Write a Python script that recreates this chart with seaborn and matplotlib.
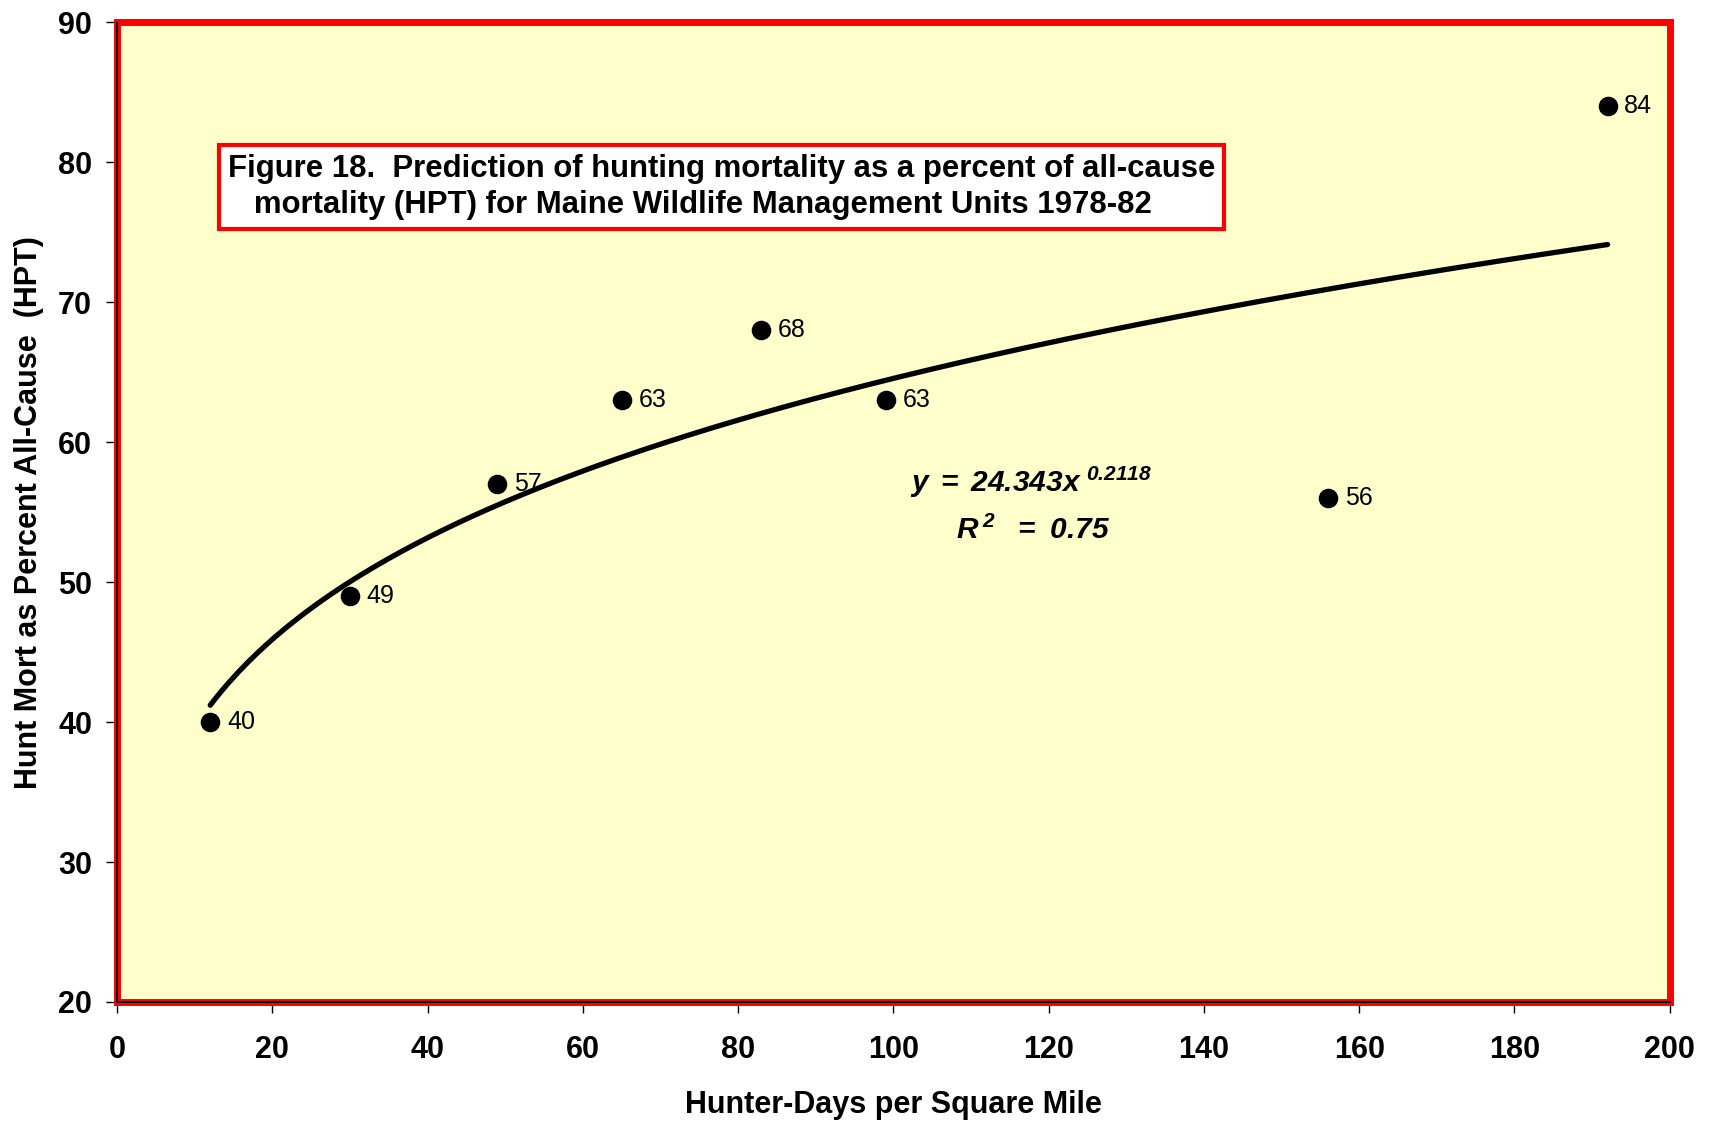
import numpy as np
import pandas as pd
import matplotlib
matplotlib.use("Agg")
import matplotlib.pyplot as plt
import seaborn as sns

# ---- data ----
hunter_days = [12, 30, 49, 65, 83, 99, 156, 192]
hpt = [40, 49, 57, 63, 68, 63, 56, 84]
fit_a = 24.343
fit_b = 0.2118
r_squared = 0.75
x_ticks = [0, 20, 40, 60, 80, 100, 120, 140, 160, 180, 200]
y_ticks = [20, 30, 40, 50, 60, 70, 80, 90]

sns.set_theme(style="white")
plt.rcParams['font.family'] = ['Liberation Sans', 'DejaVu Sans']
plt.rcParams['text.color'] = 'black'
plt.rcParams['axes.labelcolor'] = 'black'
plt.rcParams['xtick.color'] = 'black'
plt.rcParams['ytick.color'] = 'black'
plt.rcParams['mathtext.fontset'] = 'custom'
plt.rcParams['mathtext.rm'] = 'Liberation Sans:italic:bold'
plt.rcParams['mathtext.it'] = 'Liberation Sans:italic:bold'
plt.rcParams['mathtext.bf'] = 'Liberation Sans:italic:bold'

fig = plt.figure(figsize=(17.09, 11.22), dpi=100)
fig.patch.set_facecolor('white')
ax = fig.add_axes([0.0685, 0.107, 0.9085, 0.873])
ax.set_facecolor('#FFFFCC')

df = pd.DataFrame({'x': hunter_days, 'y': hpt})
xs = np.linspace(min(hunter_days), max(hunter_days), 300)
fit_df = pd.DataFrame({'x': xs, 'y': fit_a * xs ** fit_b})

sns.lineplot(data=fit_df, x='x', y='y', ax=ax, color='black', linewidth=3.8, zorder=3)
sns.scatterplot(data=df, x='x', y='y', ax=ax, color='black', s=170, edgecolor='black', zorder=4)

for xv, yv in zip(hunter_days, hpt):
    ax.annotate(str(yv), (xv, yv), xytext=(12, 0), textcoords='offset points',
                va='center', ha='left', fontsize=18, color='black', zorder=5)

ax.set_xlim(0, 200)
ax.set_ylim(20, 90)
ax.set_xticks(x_ticks)
ax.set_yticks(y_ticks)
ax.set_xticklabels([str(t) for t in x_ticks], fontsize=22, fontweight='bold')
ax.set_yticklabels([str(t) for t in y_ticks], fontsize=22, fontweight='bold')
ax.tick_params(axis='both', direction='out', length=8, width=1, color='black',
               bottom=True, left=True, labelcolor='black')
ax.tick_params(axis='x', pad=16)
ax.tick_params(axis='y', pad=10)

ax.set_xlabel('Hunter-Days per Square Mile', fontsize=22, fontweight='bold', labelpad=18)
ax.set_ylabel('Hunt Mort as Percent All-Cause  (HPT)', fontsize=22, fontweight='bold', labelpad=10)

for sp in ax.spines.values():
    sp.set_visible(True)
    sp.set_color('red')
    sp.set_linewidth(5)
ax.axvline(0, color='black', lw=1.5, zorder=6, clip_on=False)
ax.axhline(20, color='black', lw=1.5, zorder=6, clip_on=False)

fig.text(0.1335, 0.8335,
         'Figure 18.  Prediction of hunting mortality as a percent of all-cause\n'
         '   mortality (HPT) for Maine Wildlife Management Units 1978-82',
         fontsize=22.4, fontweight='bold', va='center', ha='left', color='black',
         linespacing=1.28,
         bbox=dict(boxstyle='square,pad=0.28', facecolor='white', edgecolor='red', linewidth=3))

ax.text(117.7, 57.1, r'$y\;=\;24.343x^{\ 0.2118}$', fontsize=21.5, ha='center', va='center')
ax.text(118.0, 53.7, r'$R^{\,2}\ \ =\ 0.75$', fontsize=21.5, ha='center', va='center')

fig.savefig('out.png', dpi=100, facecolor='white')
